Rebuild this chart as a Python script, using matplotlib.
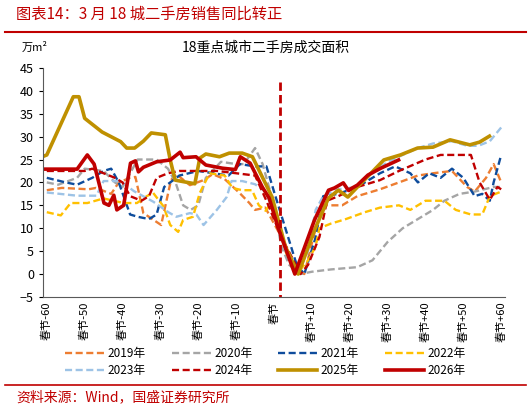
import matplotlib
matplotlib.use("Agg")
import matplotlib.pyplot as plt
from matplotlib.lines import Line2D

plt.rcParams['font.family'] = ['Noto Sans CJK SC', 'DejaVu Sans']

x2019 = [-60,-56,-49,-47,-43,-41,-38,-36.6,-34.5,-29.8,-27.2,-25.8,-22.2,-18.6,-16.2,-13,-9.1,-6.5,-5,-2.3,2,6,8,11,13,18,22,28,33,38,42,47,51,53,56,58,60]
y2019 = [18.3,18.8,18.5,18.8,17.5,20,21,21.2,13.3,10.7,20.5,21.8,19.4,20.5,21.8,20.7,17.7,15.5,14,14.5,8,0.5,0,10,15,15,17,18.5,20,21.5,22,22.5,19,18,21,24,20]
x2020 = [-60,-57,-52,-50,-45,-42,-40,-38,-36,-31,-28,-26,-24,-22,-20,-18,-14,-10,-8,-5,-3,-1,2,4,7,10,15,22,26,30,34,38,42,45,49,53,58,60]
y2020 = [20,19.5,21,23,22.5,20,19,22,25,25,23,20,15,14,15,21,24.5,24,24,27.5,24,18,6,2,0,0.5,1,1.5,3,7,10,12,14,16,17.5,18,19,19]
x2021 = [-60,-55,-52,-48,-45,-43,-41,-38,-36,-33,-31,-29,-25,-20,-12,-9,-5,-2,0,3,6,8,11,13,17,22,28,32,36,38,41,44,47,50,53,55,57,58,60]
y2021 = [21,20,19.5,21,22.5,23,20,13,12.5,12,13,19,21.5,22.5,21.5,24,23.5,23.5,18,10,2,0,8,17,17.5,19,22,23.5,22,20,22,21,23,21,17,17.5,16,20,26]
x2022 = [-60,-56.3,-53.7,-49.3,-45,-39.7,-36.2,-33.6,-31.9,-29.2,-27.4,-25.3,-24,-21.4,-19.6,-17,-13,-11,-8.4,-5.8,-4,-2.2,-0.5,3,6,9,11,12,15,19,24,28,33,36,40,45,48,52,55,57,60]
y2022 = [13.5,12.8,15.5,15.5,16.5,15.5,15.5,17,17.7,14.8,10.7,9.2,11.8,12.5,17.7,22,21.5,18.8,18.3,18.3,15,13.8,16,5,0,3,6,10,11,12,13.5,14.5,15,14,16,16,14,13,13,17,18]
x2023 = [-60,-52,-46.9,-45,-40.5,-37,-31.9,-27.9,-25.8,-22.2,-20.5,-18.6,-15.1,-12.5,-11.2,-8.4,-5,-2.3,0.3,3,6,9,11,13,17,22,26,30,34,38,42,47,51,54,57,60]
y2023 = [17.8,17.1,17.1,20.3,20.3,18.1,15.8,13.5,12.5,13.3,13,10.7,14,16.8,20.3,20.3,19.6,18,13,5,0,5,14,17,18.5,19,22,24.5,26,27.5,28.5,29,28,28,29,32]
x2024 = [-60,-50,-48,-45,-42,-40,-38,-35,-33,-31,-28,-25,-15,-10,-5,-2,2,7,9,12,14,17,22,28,33,40,44,52,54.3,57,59,60]
y2024 = [22.5,22.5,23,22,21,20,17,16,17,21,22,22.5,22.5,22,21.5,16,8,0,2,8.1,16,17,19,20.5,22.5,25,26,26,20,16.2,19,18.5]
x2025 = [-60.6,-60,-53,-51.5,-50,-45.4,-40.5,-38.9,-36.8,-34.5,-32.4,-28.7,-27.4,-26.1,-20.9,-19.6,-18,-14.4,-11.8,-8.4,-5.7,-3.1,-0.5,3,6.4,10.7,14.4,17,19.5,22.5,25.6,29,33.4,37.9,42,46.5,51.7,54.3,56.9]
y2025 = [25.8,26,38.7,38.7,34,31,28.9,27.5,27.5,29,30.8,30.4,24.9,20.5,19.7,25.3,26.2,25.6,26.4,26.4,25.6,21.2,16.8,6,0,9.6,16.6,18.3,16.8,19.4,22,24.9,26,27.5,27.7,29.3,28.2,28.8,30.1]
x2026 = [-60.6,-52,-49.3,-47.5,-44.9,-43.6,-42.3,-41.5,-39.7,-37.9,-36.6,-35.8,-34.5,-31,-27.4,-24.8,-24,-20.6,-18,-13.6,-10.2,-8.9,-6.3,-3.1,-1.3,1.3,5.5,10.7,14.4,16,18.3,19.6,22,24.8,28.2,32.9]
y2026 = [22.9,22.9,26,24,15.5,15,17.2,14,15,24.2,24.7,22.3,23.3,24.5,24.9,26.6,25.4,25.6,23.8,23.1,22.8,25.6,24.2,19,16.6,9.6,0,11.8,18.3,18.8,19.9,18.3,19.4,21.6,23.1,24.9]

series = [
    ("2019年", x2019, y2019, "#ED7D31", "--", 1.7),
    ("2020年", x2020, y2020, "#A5A5A5", "--", 1.7),
    ("2021年", x2021, y2021, "#0E4C9C", "--", 1.7),
    ("2022年", x2022, y2022, "#FFC000", "--", 1.7),
    ("2023年", x2023, y2023, "#9DC3E6", "--", 1.7),
    ("2024年", x2024, y2024, "#C00000", "--", 1.7),
    ("2025年", x2025, y2025, "#BF9000", "-", 2.6),
    ("2026年", x2026, y2026, "#C00000", "-", 2.6),
]
xticks = list(range(-60, 61, 10))
xlabels = [("春节" if v == 0 else ("春节%+d" % v)) for v in xticks]

fig = plt.figure(figsize=(5.31, 4.09), dpi=100)
ax = fig.add_axes([0.081, 0.274, 0.87, 0.56])
handles = []
for name, xs, ys, c, ls, lw in series:
    h, = ax.plot(xs, ys, color=c, ls=ls, lw=lw, label=name, dashes=(3, 1.5) if ls == "--" else (None, None))
    handles.append(h)
ax.plot([1.5, 1.5], [42, -5], color="#C00000", lw=2, ls="--", dashes=(3, 1.5))
ax.set_xlim(-61, 61)
ax.set_ylim(-5, 45)
ax.set_yticks(range(-5, 46, 5))
ax.set_xticks(xticks)
ax.set_xticklabels(xlabels, rotation=90, fontsize=8)
ax.tick_params(axis='y', labelsize=9, length=3, direction='out')
ax.tick_params(axis='x', length=0)
for s in ["top", "right"]:
    ax.spines[s].set_visible(False)
ax.spines["left"].set_color("#595959")
ax.spines["bottom"].set_color("#595959")

fig.text(0.03, 0.966, "图表14：3 月 18 城二手房销售同比转正", color="#C00000", fontsize=11, style="italic", va="center")
fig.add_artist(Line2D([0.01, 0.99], [0.922, 0.922], color="#C00000", lw=1.5))
fig.text(0.5, 0.883, "18重点城市二手房成交面积", fontsize=10, ha="center", va="center")
fig.text(0.04, 0.883, "万m²", fontsize=8, va="center")
order = [0, 4, 1, 5, 2, 6, 3, 7]
hs = [handles[i] for i in order]
fig.legend(hs, [h.get_label() for h in hs], loc="center", bbox_to_anchor=(0.5, 0.115), ncol=4, frameon=False, fontsize=8.5,
           handlelength=3.3, columnspacing=2.2, handletextpad=0.3, labelspacing=0.3)
fig.add_artist(Line2D([0.01, 0.99], [0.058, 0.058], color="#C00000", lw=1.2))
fig.text(0.03, 0.028, "资料来源：Wind，国盛证券研究所", color="#C00000", fontsize=10, style="italic", va="center")
fig.savefig("out.png", dpi=100)
